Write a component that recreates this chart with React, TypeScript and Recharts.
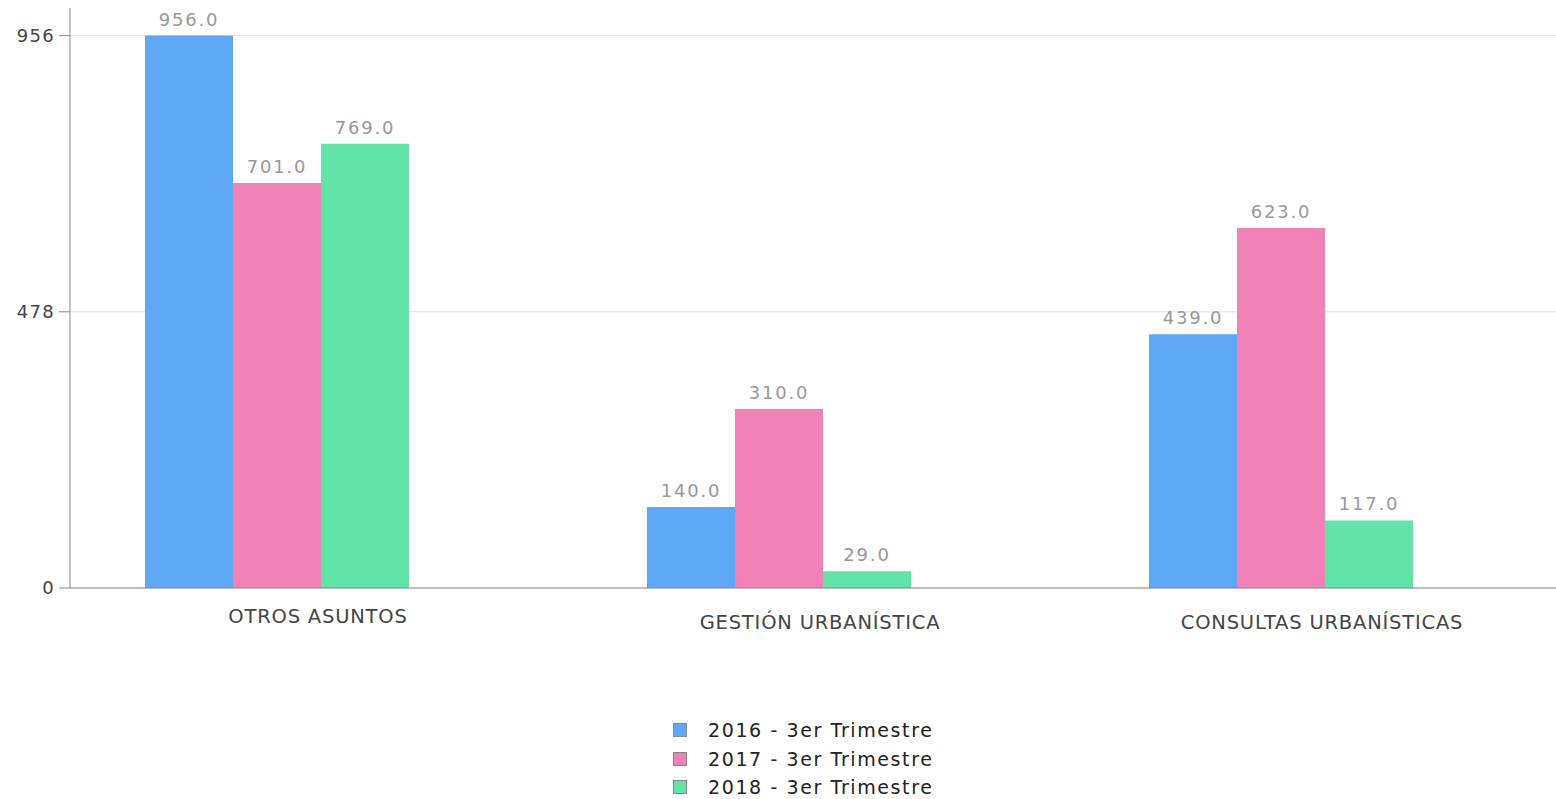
import React from "react";
import { Bar, BarChart, CartesianGrid, LabelList, Legend, XAxis, YAxis } from "recharts";

const categories = ["OTROS ASUNTOS", "GESTIÓN URBANÍSTICA", "CONSULTAS URBANÍSTICAS"];
const values2016 = [956, 140, 439];
const values2017 = [701, 310, 623];
const values2018 = [769, 29, 117];
const yTicks = [0, 478, 956];

const series = [
  { key: "s2016", name: "2016 - 3er Trimestre", color: "#5fa8f5" },
  { key: "s2017", name: "2017 - 3er Trimestre", color: "#f182b7" },
  { key: "s2018", name: "2018 - 3er Trimestre", color: "#62e3a8" },
];

const data = categories.map((c, i) => ({
  name: c,
  s2016: values2016[i],
  s2017: values2017[i],
  s2018: values2018[i],
}));

const FONT = "'DejaVu Sans', sans-serif";

function CategoryTick(props: any) {
  const { x, y, payload } = props;
  // labels with accents sit a bit lower in the original
  const accent = /[ÍÓ]/.test(payload.value);
  return (
    <text
      x={x + 41}
      y={y + (accent ? 33 : 27)}
      textAnchor="middle"
      fill="#444"
      fontSize={19.5}
      letterSpacing={0.8}
      fontFamily={FONT}
    >
      {payload.value}
    </text>
  );
}

function LegendBox() {
  return (
    <div style={{ paddingLeft: 673, fontFamily: FONT, fontSize: 19, letterSpacing: 1.6, color: "#222" }}>
      {series.map((s) => (
        <div key={s.key} style={{ display: "flex", alignItems: "center", height: 28.5 }}>
          <span
            style={{
              display: "inline-block",
              width: 12,
              height: 12,
              background: s.color,
              border: "1px solid #888",
              marginRight: 21,
            }}
          />
          <span>{s.name}</span>
        </div>
      ))}
    </div>
  );
}

export default function App() {
  return (
    <div>
      <style>{"body{margin:0}"}</style>
      <BarChart
        width={1556}
        height={799}
        data={data}
        margin={{ top: 8, right: 0, left: 0, bottom: 151 }}
        barCategoryGap={119}
        barGap={0}
      >
        <CartesianGrid vertical={false} stroke="#e2e2e2" horizontalValues={yTicks} />
        <XAxis
          dataKey="name"
          height={60}
          padding={{ left: -44, right: 24 }}
          tickLine={false}
          axisLine={{ stroke: "#888" }}
          tick={<CategoryTick />}
          interval={0}
        />
        <YAxis
          width={70}
          domain={[0, 1003.8]}
          ticks={yTicks}
          axisLine={{ stroke: "#888" }}
          tickLine={{ stroke: "#888" }}
          tickSize={11}
          tickMargin={4}
          tick={{ fill: "#444", fontSize: 18, fontFamily: FONT, letterSpacing: 1.3 }}
        />
        {series.map((s) => (
          <Bar key={s.key} dataKey={s.key} name={s.name} fill={s.color} isAnimationActive={false}>
            <LabelList
              dataKey={s.key}
              position="top"
              offset={10}
              formatter={(v: any) => Number(v).toFixed(1)}
              style={{ fill: "#999", fontSize: 18, fontFamily: FONT, letterSpacing: 1.8 }}
            />
          </Bar>
        ))}
        <Legend
          layout="vertical"
          align="center"
          verticalAlign="middle"
          wrapperStyle={{ top: 716, left: 0, width: 1556 }}
          content={<LegendBox />}
        />
      </BarChart>
    </div>
  );
}
